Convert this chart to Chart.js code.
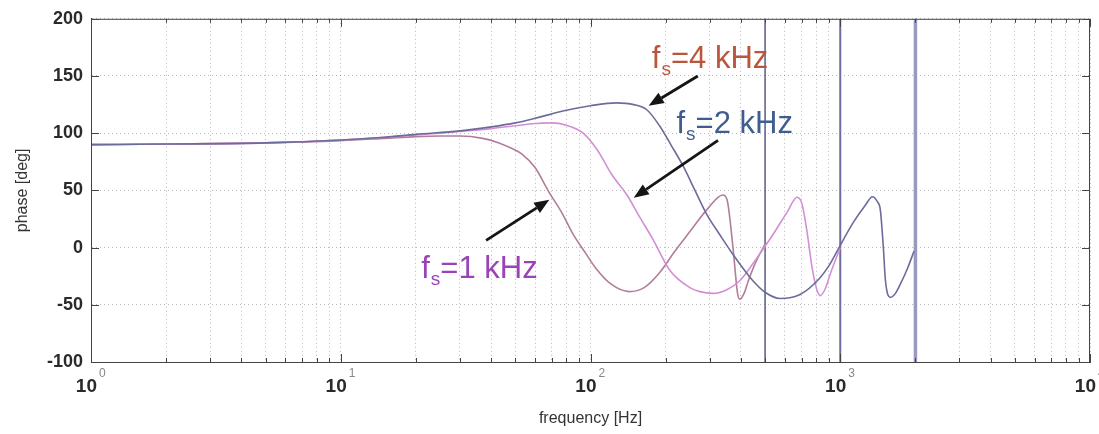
<!DOCTYPE html>
<html>
<head>
<meta charset="utf-8">
<script src="https://cdn.jsdelivr.net/npm/chart.js@4"></script>
<style>
  html, body { margin: 0; padding: 0; background: #fff; }
  #wrap { width: 1099px; height: 434px; }
</style>
</head>
<body>
<div id="wrap"><canvas id="phaseChart"></canvas></div>
<script>
// fs = 4 kHz
const freqA = [1, 2, 5, 10, 15, 20, 30, 40, 50, 60, 80, 100, 127, 149, 168, 189, 211, 234, 262, 292,
  330, 372, 447, 500, 574, 690, 825, 912, 1000, 1128, 1260, 1345, 1410, 1447, 1488, 1517, 1588, 1663, 1740, 1860, 1975];
const phaseA = [90, 90.5, 91.5, 94, 96.5, 99, 102, 105.5, 109, 113, 120, 124, 126.5, 125, 120.5, 106.5, 89, 72, 50, 29,
  11, -6, -29, -39, -44.5, -41, -27, -14, 2, 22, 37, 44.5, 40, 33, 0, -29, -43.5, -40, -32, -18, -3];

// fs = 2 kHz
const freqB = [1, 2, 5, 10, 15, 20, 25, 30, 40, 50, 60, 70, 80, 93, 106, 122, 140, 157, 177, 208,
  250, 274, 309, 350, 396, 464, 538, 613, 672, 703, 736, 772, 809, 832, 871, 912, 1000];
const phaseB = [90, 90.5, 91.5, 94, 96.5, 98.5, 100, 101.5, 104, 106.5, 108.5, 109, 107, 100.5, 86, 63.5, 46, 27, 8, -20,
  -35, -38.5, -40, -37, -29, -9, 11.5, 31, 44, 38, 14, -18, -38, -42, -36, -23, 0];

// fs = 1 kHz
const freqC = [1, 2, 5, 10, 15, 20, 25, 30, 37, 43, 48, 53, 60, 68, 77, 85, 95, 105, 121, 143,
  164, 189, 218, 250, 292, 339, 352, 372, 388, 396, 412, 427, 456, 500];
const phaseC = [90, 90.5, 91.5, 93.5, 95.5, 97, 97.5, 97.5, 95.5, 91.5, 87, 82, 70, 49, 30, 12, -4, -18, -32, -38.5,
  -35, -22, -3, 14, 33, 46, 42, 0, -40, -45, -40, -30, -14, 3];

// Nyquist markers
const nyquistFreqs = [500, 1000, 2000];

const yTicks = [-100, -50, 0, 50, 100, 150, 200];
const xDecades = [1, 10, 100, 1000, 10000];
const xExponents = ['0', '1', '2', '3', '4'];

// annotations (data coordinates)
const noteText = ['=4 kHz', '=2 kHz', '=1 kHz'];
const noteFreq = [176, 221, 21];
const notePhase = [157, 100.6, -26.5];
const noteColor = ['#b9563c', '#3f5d8e', '#9b43b6'];
const arrowFrom = [[269, 150], [324, 93.7], [38.2, 6.3]];
const arrowTo = [[171, 124], [149, 43.5], [68.4, 41.8]];

const FONT = '"Liberation Sans", Arial, sans-serif';

function pts(xs, ys) {
  return xs.map((x, i) => ({ x: x, y: ys[i] }));
}

// minor + major ticks for the log axis
const xTickValues = [];
xDecades.forEach((d, i) => {
  if (i === xDecades.length - 1) { xTickValues.push(d); return; }
  for (let m = 1; m <= 9; m++) xTickValues.push(d * m);
});

const nyqStyle = [
  { color: '#5b5b8a', width: 1.5 },
  { color: '#6d6d9d', width: 2 },
  { color: '#9a9ac0', width: 3.5 }
];

const curveStyle = (color) => ({
  borderColor: color,
  borderWidth: 1.6,
  pointRadius: 0,
  fill: false,
  cubicInterpolationMode: 'monotone'
});

const datasets = [
  Object.assign({ label: 'fs=4 kHz', data: pts(freqA, phaseA) }, curveStyle('#6c6c9c')),
  Object.assign({ label: 'fs=2 kHz', data: pts(freqB, phaseB) }, curveStyle('#d38fd6')),
  Object.assign({ label: 'fs=1 kHz', data: pts(freqC, phaseC) }, curveStyle('#b27d9b'))
];
nyquistFreqs.forEach((f, i) => {
  datasets.push({
    label: 'nyquist ' + f,
    data: [{ x: f, y: yTicks[0] }, { x: f, y: yTicks[yTicks.length - 1] }],
    borderColor: nyqStyle[i].color,
    borderWidth: nyqStyle[i].width,
    pointRadius: 0,
    fill: false
  });
});

const matlabAxes = {
  id: 'matlabAxes',
  afterDatasetsDraw(chart) {
    const ctx = chart.ctx;
    const a = chart.chartArea;
    const xs = chart.scales.x, ys = chart.scales.y;
    ctx.save();

    // box
    ctx.strokeStyle = '#444';
    ctx.lineWidth = 1;
    ctx.strokeRect(a.left + 0.5, a.top + 0.5, a.right - a.left - 1, a.bottom - a.top);

    // inward ticks
    ctx.beginPath();
    xTickValues.forEach(v => {
      const px = Math.round(xs.getPixelForValue(v)) + 0.5;
      const len = xDecades.includes(v) ? 8 : 4;
      ctx.moveTo(px, a.bottom); ctx.lineTo(px, a.bottom - len);
      ctx.moveTo(px, a.top); ctx.lineTo(px, a.top + len);
    });
    yTicks.forEach(v => {
      const py = Math.round(ys.getPixelForValue(v)) + 0.5;
      ctx.moveTo(a.left, py); ctx.lineTo(a.left + 8, py);
      ctx.moveTo(a.right, py); ctx.lineTo(a.right - 8, py);
    });
    ctx.stroke();

    // decade labels with superscripts
    xDecades.forEach((d, i) => {
      const px = xs.getPixelForValue(d);
      ctx.fillStyle = '#2a2a2a';
      ctx.font = 'bold 19px ' + FONT;
      ctx.textAlign = 'right';
      ctx.textBaseline = 'alphabetic';
      ctx.fillText('10', px + 6, 392);
      ctx.font = '12px ' + FONT;
      ctx.textAlign = 'left';
      ctx.fillStyle = '#888';
      ctx.fillText(xExponents[i], px + 8, 377);
    });

    // arrows
    ctx.strokeStyle = '#151515';
    ctx.fillStyle = '#151515';
    ctx.lineWidth = 2.8;
    arrowFrom.forEach((from, i) => {
      const x0 = xs.getPixelForValue(from[0]), y0 = ys.getPixelForValue(from[1]);
      const x1 = xs.getPixelForValue(arrowTo[i][0]), y1 = ys.getPixelForValue(arrowTo[i][1]);
      const ang = Math.atan2(y1 - y0, x1 - x0);
      const hl = 15, hw = 6;
      const bx = x1 - hl * Math.cos(ang), by = y1 - hl * Math.sin(ang);
      ctx.beginPath();
      ctx.moveTo(x0, y0); ctx.lineTo(bx, by);
      ctx.stroke();
      ctx.beginPath();
      ctx.moveTo(x1, y1);
      ctx.lineTo(bx + hw * Math.sin(ang), by - hw * Math.cos(ang));
      ctx.lineTo(bx - hw * Math.sin(ang), by + hw * Math.cos(ang));
      ctx.closePath();
      ctx.fill();
    });

    // f_s labels
    ctx.textAlign = 'left';
    ctx.textBaseline = 'alphabetic';
    noteText.forEach((t, i) => {
      let x = xs.getPixelForValue(noteFreq[i]);
      const y = ys.getPixelForValue(notePhase[i]);
      ctx.fillStyle = noteColor[i];
      ctx.font = '31px ' + FONT;
      ctx.fillText('f', x, y);
      x += ctx.measureText('f').width + 1;
      ctx.font = '19px ' + FONT;
      ctx.fillText('s', x, y + 7);
      x += ctx.measureText('s').width;
      ctx.font = '31px ' + FONT;
      ctx.fillText(t, x, y);
    });
    ctx.restore();
  }
};

new Chart(document.getElementById('phaseChart'), {
  type: 'line',
  data: { datasets: datasets },
  options: {
    responsive: true,
    maintainAspectRatio: false,
    animation: false,
    layout: { padding: { top: 15, right: 9, left: 0, bottom: 0 } },
    plugins: {
      legend: { display: false },
      tooltip: { enabled: false }
    },
    scales: {
      x: {
        type: 'logarithmic',
        min: xDecades[0],
        max: xDecades[xDecades.length - 1],
        afterBuildTicks: (scale) => {
          scale.ticks = xTickValues.map(v => ({ value: v, major: xDecades.includes(v) }));
        },
        afterFit: (scale) => { scale.height = 72; },
        ticks: { display: false, autoSkip: false },
        grid: { color: 'rgba(0,0,0,0.28)', drawTicks: false, lineWidth: 1 },
        border: { color: '#444', dash: [1, 3] },
        title: {
          display: true,
          text: 'frequency [Hz]',
          color: '#333',
          font: { family: FONT, size: 16 },
          padding: { top: 0, bottom: 6 }
        }
      },
      y: {
        min: yTicks[0],
        max: yTicks[yTicks.length - 1],
        afterBuildTicks: (scale) => {
          scale.ticks = yTicks.map(v => ({ value: v }));
        },
        afterFit: (scale) => { scale.width = 91; },
        ticks: {
          color: '#2a2a2a',
          padding: 8,
          font: { family: FONT, size: 18, weight: 'bold' }
        },
        grid: { color: 'rgba(0,0,0,0.28)', drawTicks: false, lineWidth: 1 },
        border: { color: '#444', dash: [1, 3] },
        title: {
          display: true,
          text: 'phase [deg]',
          color: '#333',
          font: { family: FONT, size: 16 },
          padding: { top: 13, bottom: 0 }
        }
      }
    }
  },
  plugins: [matlabAxes]
});
</script>
</body>
</html>
